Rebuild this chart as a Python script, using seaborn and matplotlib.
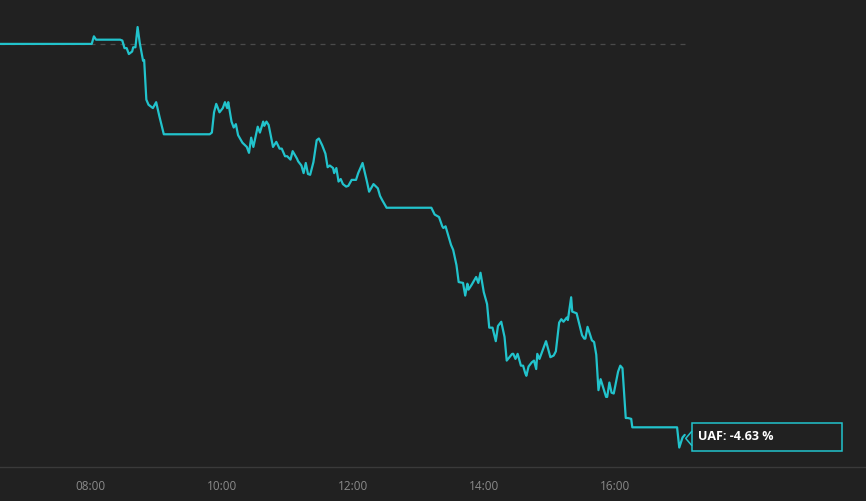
import pandas as pd
import seaborn as sns
import matplotlib.pyplot as plt
import matplotlib.dates as mdates
from matplotlib.lines import Line2D
from matplotlib.patches import Rectangle

ticker = 'UAF'

times = ['06:37', '08:01', '08:03', '08:05', '08:27', '08:29', '08:31', '08:33', '08:35', '08:38',
         '08:39', '08:41', '08:43', '08:45', '08:48', '08:49', '08:51', '08:53', '08:57', '09:00',
         '09:03', '09:07', '09:49', '09:51', '09:53', '09:55', '09:58', '10:01', '10:03', '10:05',
         '10:06', '10:09', '10:11', '10:13', '10:15', '10:19', '10:23', '10:25', '10:27', '10:29',
         '10:33', '10:35', '10:38', '10:39', '10:41', '10:43', '10:47', '10:50', '10:53', '10:55',
         '10:58', '11:00', '11:03', '11:05', '11:09', '11:10', '11:13', '11:15', '11:17', '11:19',
         '11:21', '11:24', '11:27', '11:29', '11:32', '11:35', '11:37', '11:39', '11:42', '11:43',
         '11:45', '11:47', '11:49', '11:51', '11:54', '11:56', '11:59', '12:03', '12:05', '12:09',
         '12:13', '12:15', '12:19', '12:23', '12:25', '12:27', '12:31', '13:12', '13:15', '13:19',
         '13:22', '13:23', '13:25', '13:30', '13:32', '13:35', '13:37', '13:41', '13:43', '13:45',
         '13:46', '13:49', '13:53', '13:55', '13:57', '14:00', '14:03', '14:05', '14:08', '14:11',
         '14:13', '14:16', '14:19', '14:21', '14:26', '14:27', '14:29', '14:31', '14:34', '14:36',
         '14:38', '14:39', '14:41', '14:44', '14:46', '14:48', '14:49', '14:51', '14:57', '15:01',
         '15:04', '15:06', '15:09', '15:11', '15:13', '15:16', '15:17', '15:20', '15:21', '15:25',
         '15:30', '15:32', '15:33', '15:35', '15:39', '15:41', '15:43', '15:45', '15:47', '15:52',
         '15:53', '15:55', '15:57', '15:59', '16:03', '16:05', '16:07', '16:10', '16:12', '16:15',
         '16:16', '16:57', '16:59', '17:02', '17:04']

change = [0.00, 0.00, 0.09, 0.05, 0.05, 0.04, -0.05, -0.05, -0.12, -0.09,
          -0.04, -0.04, 0.20, 0.01, -0.20, -0.19, -0.66, -0.72, -0.76, -0.69,
          -0.86, -1.07, -1.07, -1.05, -0.81, -0.71, -0.81, -0.76, -0.69, -0.76,
          -0.69, -0.92, -0.99, -0.95, -1.08, -1.17, -1.22, -1.29, -1.11, -1.22,
          -0.98, -1.05, -0.92, -0.97, -0.92, -0.96, -1.22, -1.16, -1.24, -1.24,
          -1.33, -1.33, -1.37, -1.27, -1.36, -1.39, -1.44, -1.53, -1.41, -1.54,
          -1.55, -1.40, -1.14, -1.12, -1.20, -1.30, -1.46, -1.44, -1.47, -1.53,
          -1.47, -1.63, -1.60, -1.66, -1.69, -1.68, -1.61, -1.61, -1.53, -1.41,
          -1.63, -1.75, -1.66, -1.71, -1.80, -1.85, -1.94, -1.94, -2.02, -2.05,
          -2.16, -2.18, -2.16, -2.38, -2.44, -2.62, -2.82, -2.83, -2.98, -2.84,
          -2.91, -2.85, -2.76, -2.83, -2.71, -2.94, -3.08, -3.36, -3.36, -3.52,
          -3.34, -3.29, -3.47, -3.75, -3.67, -3.67, -3.73, -3.67, -3.81, -3.81,
          -3.90, -3.93, -3.82, -3.77, -3.75, -3.85, -3.67, -3.73, -3.52, -3.71,
          -3.69, -3.64, -3.30, -3.26, -3.29, -3.24, -3.27, -3.00, -3.17, -3.19,
          -3.45, -3.49, -3.49, -3.35, -3.51, -3.53, -3.68, -4.10, -3.97, -4.18,
          -4.18, -4.01, -4.13, -4.14, -3.88, -3.81, -3.84, -4.43, -4.43, -4.44,
          -4.54, -4.54, -4.78, -4.66, -4.63]

tick_labels = ['08:00', '10:00', '12:00', '14:00', '16:00']

bg = '#212121'
cyan = '#22c3cc'

df = pd.DataFrame({'time': pd.to_datetime(['2024-01-02 ' + t for t in times]),
                   'change': change})

sns.set_style('dark', {'axes.facecolor': bg, 'figure.facecolor': bg})
plt.rcParams['font.family'] = ['Open Sans', 'DejaVu Sans']

fig = plt.figure(figsize=(8.66, 5.01), dpi=100)
ax = fig.add_axes([0, 34 / 501, 1, 467 / 501])

sns.lineplot(data=df, x='time', y='change', estimator=None, sort=False,
             color=cyan, linewidth=1.6, ax=ax)

# zero reference line
ax.plot([df.time.iloc[0], df.time.iloc[-1]], [0, 0], color='#4a4a4a',
        linewidth=0.9, dashes=(4, 4), zorder=1)

ax.set_xlim(df.time.iloc[0], pd.Timestamp('2024-01-02 19:50'))
ax.set_ylim(-5.01, 0.52)

ticks = pd.to_datetime(['2024-01-02 ' + t for t in tick_labels])
ax.set_xticks(ticks)
ax.set_xticklabels(tick_labels)
ax.tick_params(axis='x', colors='#8a8a8a', labelsize=8.5, length=0, pad=9)
ax.set_yticks([])
ax.set_xlabel('')
ax.set_ylabel('')
ax.grid(False)
for s in ['top', 'left', 'right']:
    ax.spines[s].set_visible(False)
ax.spines['bottom'].set_visible(True)
ax.spines['bottom'].set_color('#3a3a3a')
ax.spines['bottom'].set_linewidth(1)

# last value label box
fig.canvas.draw()
px, py = ax.transData.transform((mdates.date2num(df.time.iloc[-1]), df.change.iloc[-1]))
W, H = fig.bbox.width, fig.bbox.height
bx0, bw, bh = px + 7, 150, 28
cy = py - 2.5
fig.add_artist(Rectangle((bx0 / W, (cy - bh / 2) / H), bw / W, bh / H,
                         transform=fig.transFigure, facecolor=bg, edgecolor=cyan,
                         linewidth=1.1, zorder=5))
fig.add_artist(Line2D([bx0 / W, (px + 1) / W, bx0 / W],
                      [(cy + 6) / H, (cy - 1) / H, (cy - 8) / H],
                      transform=fig.transFigure, color=cyan, linewidth=1.1, zorder=6))
fig.text((bx0 + 6) / W, (cy + 1) / H, f'{ticker}: {df.change.iloc[-1]:.2f} %',
         color='white', fontsize=9, fontweight='bold', va='center', ha='left', zorder=7)

fig.savefig('out.png', dpi=100, facecolor=bg)
